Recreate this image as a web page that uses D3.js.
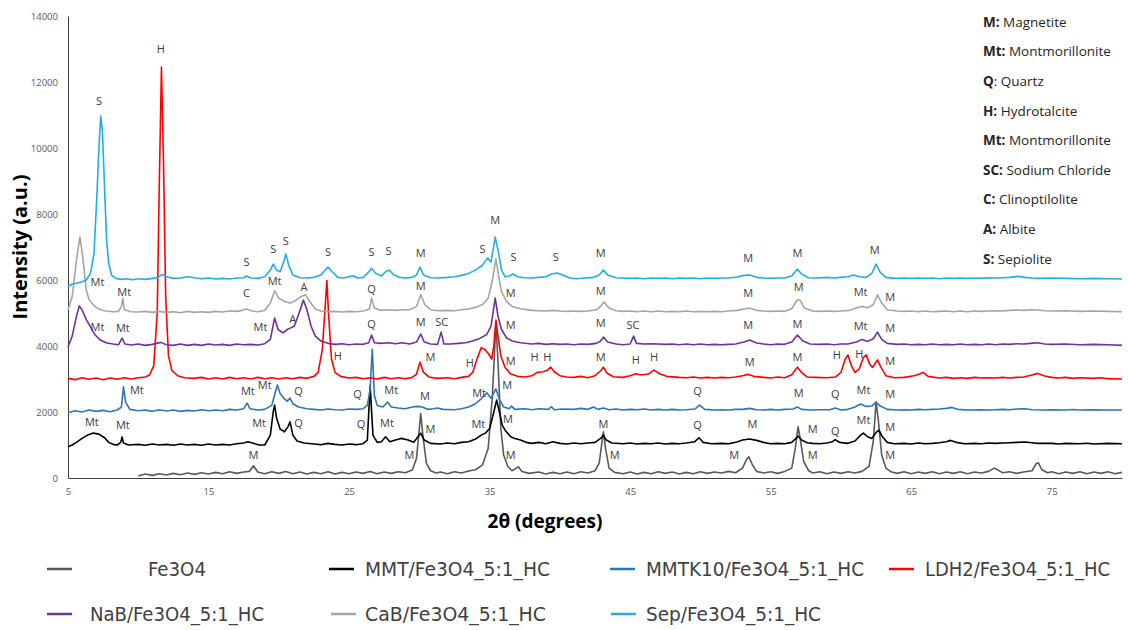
<!DOCTYPE html>
<html>
<head>
<meta charset="utf-8">
<script src="https://cdn.jsdelivr.net/npm/d3@7"></script>
<style>
  body { margin: 0; background: #fff; }
  .tick text { font-family: "Open Sans", sans-serif; fill: #595959; }
</style>
</head>
<body>
<div id="xrd"></div>
<script>
// XRD patterns of the Fe3O4 composites, each stacked with its own offset

// tick labels
var xTickValues = [5, 15, 25, 35, 45, 55, 65, 75];
var yTickValues = [0, 2000, 4000, 6000, 8000, 10000, 12000, 14000];

// series names + colours, drawn in this order
var seriesNames = ["Fe3O4", "MMT/Fe3O4_5:1_HC", "MMTK10/Fe3O4_5:1_HC", "LDH2/Fe3O4_5:1_HC",
                   "NaB/Fe3O4_5:1_HC", "CaB/Fe3O4_5:1_HC", "Sep/Fe3O4_5:1_HC"];
var seriesColors = ["#595959", "#000000", "#2E75B6", "#FF0000", "#7030A0", "#A5A5A5", "#1FAEE6"];

// [2theta, intensity]
var fe3o4 = [[10.0,60],[10.5,120],[11,80],[11.5,130],[12,90],[12.5,140],[13,100],[13.5,150],[14,110],[14.5,160],[15,120],[15.5,170],[16,130],[16.5,190],[17,140],[17.5,180],[17.9,200],[18.2,370],[18.5,180],[19,130],[19.5,190],[20,140],[20.5,200],[21,130],[21.5,180],[22,120],[22.5,170],[23,130],[23.5,190],[24,120],[24.5,170],[25,130],[25.5,180],[26,140],[26.5,200],[27,130],[27.5,180],[28,140],[28.5,190],[29,160],[29.5,240],[29.8,600],[30.0,1500],[30.1,1950],[30.25,1300],[30.5,450],[30.8,220],[31.2,150],[31.5,180],[32,130],[32.5,190],[33,150],[33.5,210],[34,250],[34.5,400],[34.9,900],[35.2,2500],[35.45,4700],[35.6,3500],[35.8,1500],[36.0,700],[36.3,350],[36.6,220],[36.9,300],[37.05,340],[37.3,200],[37.8,140],[38.5,180],[39,120],[39.5,170],[40,130],[40.5,180],[41,130],[41.5,190],[42,150],[42.5,220],[42.8,450],[43.0,1100],[43.1,1400],[43.25,900],[43.5,300],[43.9,170],[44.5,130],[45,180],[45.5,120],[46,170],[46.5,130],[47,190],[47.5,140],[48,180],[48.5,120],[49,170],[49.5,130],[50,190],[50.5,140],[51,180],[51.5,150],[52,200],[52.5,160],[53.0,300],[53.3,580],[53.45,640],[53.7,400],[54.0,200],[54.5,150],[55,190],[55.5,140],[56,200],[56.5,300],[56.75,900],[56.95,1550],[57.1,1200],[57.35,500],[57.7,220],[58,150],[58.5,190],[59,130],[59.5,180],[60,140],[60.5,190],[61,150],[61.5,200],[62.0,350],[62.3,1100],[62.5,2300],[62.65,1800],[62.9,700],[63.2,300],[63.6,180],[64,140],[64.5,190],[65,130],[65.5,180],[66,140],[66.5,190],[67,130],[67.5,180],[68,140],[68.5,190],[69,130],[69.5,180],[70,150],[70.5,200],[70.9,300],[71.1,260],[71.5,160],[72,190],[72.5,140],[73,180],[73.6,220],[73.9,440],[74.05,460],[74.3,250],[74.7,160],[75,190],[75.5,130],[76,180],[76.5,140],[77,190],[77.5,130],[78,180],[78.5,140],[79,190],[79.5,130],[80,170]];

var mmt = [[5,950],[5.3,1000],[5.6,1080],[6,1200],[6.4,1300],[6.8,1360],[7.2,1330],[7.6,1220],[7.9,1080],[8.2,1020],[8.5,1000],[8.75,1080],[8.85,1240],[8.95,1060],[9.3,1000],[10,1020],[10.5,990],[11,1030],[11.5,1000],[12,1020],[12.5,990],[13,1030],[13.5,1000],[14,1020],[14.5,990],[15,1030],[15.5,1000],[16,1020],[16.5,1000],[17,1040],[17.5,1060],[17.8,1100],[18.2,1050],[18.6,1000],[19.0,1000],[19.4,1300],[19.6,2000],[19.7,2210],[19.85,1800],[20.1,1480],[20.4,1400],[20.65,1550],[20.8,1700],[21.0,1300],[21.3,1120],[21.8,1060],[22.5,1030],[23,1010],[23.5,1050],[24,1020],[24.5,1000],[25,1030],[25.5,1010],[26,1040],[26.3,1150],[26.5,2800],[26.7,1300],[27,1080],[27.3,1100],[27.6,1250],[27.9,1100],[28.3,1150],[28.7,1200],[29.2,1150],[29.6,1080],[29.9,1250],[30.1,1360],[30.35,1150],[30.8,1050],[31.5,1030],[32,1060],[32.5,1040],[33,1080],[33.5,1100],[34,1180],[34.4,1300],[34.7,1360],[35.0,1500],[35.3,2000],[35.5,2360],[35.7,2000],[35.9,1600],[36.1,1450],[36.5,1250],[36.8,1200],[37.2,1150],[37.6,1080],[38,1050],[38.5,1080],[39,1040],[39.5,1100],[40,1050],[40.5,1030],[41,1060],[41.5,1040],[42,1060],[42.5,1080],[42.9,1200],[43.1,1300],[43.3,1150],[43.7,1060],[44.5,1040],[45,1060],[45.5,1030],[46,1050],[46.5,1040],[47,1060],[47.5,1030],[48,1050],[48.5,1040],[49,1060],[49.6,1100],[49.9,1220],[50.2,1080],[50.8,1040],[51.5,1050],[52,1040],[52.6,1090],[53.0,1150],[53.5,1180],[54.0,1140],[54.5,1080],[55,1040],[55.5,1050],[56,1040],[56.5,1080],[56.8,1200],[56.95,1270],[57.2,1150],[57.6,1070],[58,1050],[58.5,1040],[59,1060],[59.4,1100],[59.6,1160],[59.9,1080],[60.5,1050],[61.0,1120],[61.4,1300],[61.6,1360],[61.9,1250],[62.2,1200],[62.5,1380],[62.7,1450],[62.95,1250],[63.3,1080],[63.8,1040],[64.5,1050],[65,1030],[65.5,1060],[66,1040],[66.5,1050],[67,1070],[67.5,1100],[67.8,1140],[68.2,1080],[68.8,1040],[69.5,1050],[70,1040],[70.5,1060],[71,1050],[71.5,1060],[72,1070],[72.5,1080],[73.1,1090],[73.6,1070],[74,1050],[75,1050],[75.5,1030],[76,1050],[77,1040],[77.5,1055],[78,1030],[79,1050],[80,1040]];

var mmtk10 = [[5,1980],[5.5,2040],[6,2000],[6.5,2060],[7,2020],[7.5,2050],[8,2010],[8.5,2060],[8.8,2150],[8.95,2760],[9.1,2300],[9.4,2080],[10,2040],[10.5,2060],[11,2020],[11.5,2070],[12,2030],[12.5,2060],[13,2020],[13.5,2050],[14,2030],[14.5,2070],[15,2040],[15.5,2060],[16,2040],[16.5,2080],[17,2060],[17.5,2100],[17.75,2270],[17.95,2100],[18.5,2060],[19.0,2080],[19.5,2200],[19.75,2600],[19.9,2820],[20.1,2550],[20.4,2400],[20.6,2330],[20.8,2420],[21.0,2250],[21.4,2150],[22,2100],[22.5,2080],[23,2060],[23.5,2090],[24,2070],[24.5,2060],[25,2090],[25.5,2080],[26,2100],[26.3,2200],[26.5,2700],[26.65,3900],[26.8,2500],[27.0,2200],[27.4,2150],[27.75,2300],[28.0,2150],[28.5,2120],[29,2100],[29.5,2150],[29.9,2170],[30.2,2150],[30.6,2080],[31,2100],[31.3,2120],[31.7,2080],[32.5,2070],[33,2100],[33.5,2150],[34,2250],[34.4,2400],[34.8,2580],[35.1,2420],[35.45,2700],[35.7,2380],[36,2150],[36.4,2100],[36.55,2180],[36.8,2080],[37.5,2100],[38,2070],[38.5,2100],[39.2,2080],[39.4,2160],[39.6,2070],[40.2,2090],[41,2080],[41.5,2110],[42,2080],[42.4,2150],[42.7,2080],[43.1,2120],[43.5,2070],[44,2090],[44.5,2060],[45,2080],[45.5,2070],[46,2090],[46.5,2060],[47,2080],[47.5,2060],[48,2080],[48.5,2060],[49,2070],[49.6,2090],[49.95,2210],[50.3,2080],[51,2060],[51.5,2070],[52,2060],[52.5,2080],[53,2080],[53.5,2110],[54,2070],[54.5,2060],[55,2080],[55.5,2060],[56,2080],[56.6,2090],[56.9,2150],[57.2,2080],[57.8,2060],[58.5,2070],[59.2,2070],[59.6,2120],[60,2060],[60.5,2080],[61.0,2150],[61.4,2240],[61.8,2170],[62.2,2180],[62.5,2300],[62.8,2180],[63.3,2080],[64,2060],[64.5,2070],[65,2060],[65.5,2080],[66,2070],[66.5,2080],[67,2090],[67.5,2110],[67.9,2140],[68.3,2080],[69,2060],[70,2070],[70.5,2060],[71,2070],[71.5,2080],[72,2070],[72.5,2090],[73.1,2100],[73.6,2070],[74.5,2060],[75,2070],[76,2060],[76.5,2075],[77,2060],[78,2070],[79,2060],[80,2060]];

var ldh2 = [[5,3020],[5.5,2980],[6,3040],[6.5,2990],[7,3030],[7.5,2980],[8,3030],[8.5,2990],[9,3040],[9.5,3000],[10,3040],[10.5,3060],[10.8,3120],[11.1,3400],[11.35,5000],[11.5,9000],[11.65,12450],[11.8,9500],[11.95,5500],[12.15,3700],[12.4,3250],[12.8,3100],[13.3,3040],[14,3020],[14.5,3050],[15,3000],[15.5,3040],[16,3000],[16.5,3050],[17,3010],[17.5,3040],[18,3000],[18.5,3050],[19,3010],[19.5,3040],[20,3000],[20.5,3040],[21,3010],[21.5,3050],[22,3020],[22.5,3080],[22.8,3200],[23.1,3900],[23.3,5200],[23.42,5980],[23.55,4900],[23.75,3600],[24,3200],[24.4,3080],[25,3030],[25.5,3050],[26,3010],[26.5,3040],[27,3000],[27.5,3050],[28,3010],[28.5,3040],[29,3010],[29.5,3050],[29.8,3150],[30.05,3510],[30.3,3200],[30.7,3060],[31.2,3020],[32,3040],[32.5,3010],[33,3050],[33.5,3080],[33.8,3200],[34.1,3600],[34.4,3950],[34.65,3900],[34.95,3750],[35.15,3600],[35.3,4000],[35.45,4790],[35.6,4300],[35.8,3700],[36.1,3350],[36.5,3150],[37,3080],[37.5,3060],[38,3100],[38.4,3200],[38.8,3220],[39.1,3260],[39.35,3360],[39.6,3220],[40,3100],[40.5,3060],[41,3050],[41.5,3080],[42,3040],[42.5,3100],[42.9,3250],[43.1,3360],[43.35,3180],[43.8,3070],[44.5,3050],[45,3100],[45.4,3160],[45.8,3120],[46.3,3150],[46.7,3270],[47.1,3160],[47.6,3080],[48.5,3050],[49,3040],[49.5,3060],[50,3030],[50.5,3050],[51,3030],[51.5,3050],[52,3040],[52.5,3060],[53,3100],[53.4,3140],[53.8,3080],[54.5,3050],[55,3030],[55.5,3060],[56,3040],[56.5,3130],[56.9,3360],[57.2,3200],[57.6,3060],[58.2,3050],[59,3040],[59.6,3060],[60.0,3200],[60.3,3600],[60.5,3730],[60.75,3400],[61.0,3200],[61.3,3300],[61.6,3650],[61.8,3730],[62.05,3450],[62.25,3350],[62.6,3580],[62.85,3350],[63.2,3100],[63.8,3040],[64.5,3050],[65.2,3100],[65.6,3150],[65.85,3200],[66.2,3080],[67,3030],[67.5,3050],[68,3020],[68.5,3040],[69,3020],[69.5,3050],[70,3030],[70.5,3040],[71,3030],[71.5,3050],[72,3030],[72.5,3050],[73,3060],[73.6,3120],[74.0,3170],[74.5,3090],[75,3050],[75.5,3030],[76,3050],[76.5,3020],[77,3040],[78,3020],[78.5,3040],[79,3010],[80,3000]];

var nab = [[5,3970],[5.3,4300],[5.6,4900],[5.8,5210],[6.0,5100],[6.3,4800],[6.6,4580],[6.9,4350],[7.3,4180],[7.7,4100],[8.2,4060],[8.6,4040],[8.85,4240],[9.05,4060],[9.5,4030],[10,4060],[10.5,4020],[11,4050],[11.6,4110],[12,4040],[12.5,4020],[13,4060],[13.5,4020],[14,4050],[14.5,4020],[15,4060],[15.5,4030],[16,4050],[16.5,4020],[17,4060],[17.5,4040],[18,4050],[18.5,4030],[19,4070],[19.4,4200],[19.7,4850],[19.95,4500],[20.3,4400],[20.6,4500],[20.85,4550],[21.1,4600],[21.4,4950],[21.75,5390],[22.0,5100],[22.3,4600],[22.6,4300],[23.0,4150],[23.5,4080],[24,4050],[24.5,4070],[25,4040],[25.5,4060],[26,4050],[26.4,4100],[26.6,4330],[26.8,4100],[27.3,4080],[27.8,4100],[28.3,4070],[28.8,4100],[29.3,4060],[29.8,4120],[30.1,4360],[30.35,4120],[30.8,4060],[31.3,4050],[31.55,4420],[31.75,4060],[32.2,4060],[32.8,4080],[33.3,4100],[33.8,4150],[34.3,4230],[34.8,4350],[35.1,4600],[35.4,5450],[35.6,4900],[35.85,4500],[36.2,4250],[36.6,4150],[37.2,4100],[38,4060],[38.5,4080],[39,4050],[39.5,4070],[40,4050],[40.5,4060],[41,4040],[41.5,4060],[42,4050],[42.6,4080],[42.9,4150],[43.1,4270],[43.4,4120],[44,4060],[44.5,4040],[45.0,4060],[45.25,4300],[45.45,4080],[46,4060],[46.5,4070],[47,4060],[47.5,4050],[48,4060],[48.5,4040],[49,4060],[49.5,4040],[50,4060],[50.5,4040],[51,4050],[51.5,4040],[52,4050],[52.5,4060],[53.1,4120],[53.5,4180],[54,4090],[54.5,4060],[55,4040],[55.5,4060],[56,4050],[56.5,4120],[56.9,4330],[57.3,4150],[57.8,4060],[58.5,4050],[59,4060],[59.5,4040],[60,4060],[60.5,4060],[61.1,4120],[61.5,4200],[61.9,4140],[62.3,4220],[62.6,4420],[62.9,4200],[63.3,4080],[64,4050],[64.5,4060],[65,4040],[65.5,4050],[66,4040],[66.5,4060],[67,4040],[67.5,4050],[68,4040],[68.5,4060],[69,4040],[69.5,4050],[70,4040],[70.5,4060],[71,4040],[71.5,4060],[72,4050],[72.5,4070],[73,4060],[73.5,4080],[74,4100],[74.5,4060],[75,4050],[76,4060],[77,4040],[78,4050],[79,4040],[80,4020]];

var cab = [[5,5090],[5.3,5500],[5.6,6600],[5.85,7300],[6.05,6700],[6.3,5700],[6.5,5400],[6.9,5200],[7.3,5100],[7.7,5060],[8.2,5040],[8.6,5050],[8.8,5200],[8.9,5450],[9.0,5100],[9.5,5040],[10,5030],[10.5,5050],[11,5020],[11.5,5050],[12,5020],[12.5,5040],[13,5010],[13.5,5050],[14,5020],[14.5,5040],[15,5020],[15.5,5050],[16,5030],[16.5,5060],[17,5050],[17.4,5080],[17.7,5120],[18.1,5060],[18.5,5040],[19.0,5080],[19.4,5300],[19.7,5670],[20.0,5450],[20.4,5350],[20.8,5300],[21.2,5380],[21.6,5500],[21.9,5550],[22.2,5350],[22.6,5120],[23,5060],[23.5,5040],[24,5050],[24.5,5030],[25,5050],[25.5,5040],[26,5060],[26.45,5120],[26.6,5450],[26.8,5150],[27.2,5080],[27.8,5100],[28.3,5080],[28.8,5100],[29.3,5100],[29.8,5200],[30.1,5550],[30.4,5250],[30.8,5100],[31.3,5070],[32,5080],[32.5,5070],[33,5100],[33.5,5120],[34,5170],[34.5,5260],[34.9,5450],[35.2,6000],[35.45,6650],[35.65,6100],[35.85,5650],[36.2,5350],[36.6,5200],[37.2,5130],[38,5080],[38.5,5070],[39,5060],[39.5,5080],[40,5060],[40.5,5050],[41,5060],[41.5,5050],[42,5060],[42.6,5100],[42.9,5200],[43.15,5330],[43.5,5150],[44,5070],[44.5,5050],[45,5060],[45.5,5040],[46,5060],[46.5,5040],[47,5060],[47.5,5040],[48,5050],[48.5,5040],[49,5060],[49.5,5040],[50,5050],[50.5,5040],[51,5050],[51.5,5040],[52,5060],[52.6,5080],[53.1,5120],[53.5,5150],[54,5080],[54.5,5060],[55,5050],[55.5,5060],[56,5050],[56.5,5130],[56.9,5400],[57.1,5380],[57.4,5150],[58,5060],[58.5,5050],[59,5060],[59.5,5050],[60,5060],[60.6,5080],[61.1,5150],[61.5,5200],[61.9,5160],[62.3,5250],[62.6,5550],[62.9,5300],[63.3,5100],[64,5060],[64.5,5050],[65,5060],[65.5,5040],[66,5060],[66.5,5040],[67,5050],[67.5,5060],[68,5040],[68.5,5060],[69,5040],[69.5,5060],[70,5050],[70.5,5060],[71,5070],[71.5,5060],[72,5080],[72.5,5090],[73,5080],[73.6,5100],[74,5090],[74.5,5070],[75,5060],[76,5070],[77,5050],[78,5060],[79,5050],[80,5040]];

var sep = [[5,5800],[5.3,5880],[5.6,5900],[6.0,5950],[6.3,6000],[6.6,6200],[6.85,6800],[7.05,8500],[7.2,10000],[7.33,10970],[7.45,10500],[7.6,8800],[7.75,7200],[7.9,6500],[8.1,6150],[8.4,6050],[8.8,6020],[9.2,6040],[9.6,6010],[10,6040],[10.5,6020],[11,6050],[11.4,6080],[11.7,6170],[12.0,6100],[12.5,6050],[13,6060],[13.5,6100],[14,6070],[14.5,6040],[15,6060],[15.5,6030],[16,6050],[16.5,6030],[17,6060],[17.5,6070],[17.7,6120],[18,6060],[18.5,6050],[19,6100],[19.4,6300],[19.6,6480],[19.85,6300],[20.1,6250],[20.35,6550],[20.5,6790],[20.7,6450],[21.0,6150],[21.5,6070],[22,6060],[22.5,6080],[23,6150],[23.3,6300],[23.5,6390],[23.8,6250],[24.2,6080],[24.6,6060],[25.0,6100],[25.3,6130],[25.6,6060],[26,6080],[26.3,6200],[26.6,6350],[26.9,6200],[27.3,6120],[27.6,6250],[27.85,6300],[28.2,6150],[28.6,6080],[29,6060],[29.5,6080],[29.8,6150],[30.05,6390],[30.3,6150],[30.8,6070],[31.3,6060],[32,6080],[32.5,6100],[33,6140],[33.5,6200],[34,6300],[34.5,6450],[34.85,6670],[35.1,6550],[35.4,7300],[35.6,6900],[35.85,6300],[36.1,6100],[36.4,6120],[36.65,6180],[37,6100],[37.5,6070],[38,6060],[38.5,6080],[39,6100],[39.4,6180],[39.8,6210],[40.2,6150],[40.7,6060],[41.2,6040],[41.8,6060],[42.4,6080],[42.8,6150],[43.1,6300],[43.4,6150],[44,6070],[44.5,6060],[45,6050],[45.5,6060],[46,6040],[46.5,6060],[47,6050],[47.5,6060],[48,6040],[48.5,6060],[49,6050],[49.5,6060],[50,6040],[50.5,6060],[51,6050],[51.5,6060],[52,6060],[52.6,6090],[53.1,6140],[53.5,6150],[54,6080],[54.5,6060],[55,6050],[55.5,6060],[56,6060],[56.5,6120],[56.9,6330],[57.2,6180],[57.7,6070],[58.3,6060],[59,6080],[59.5,6060],[60,6080],[60.5,6100],[60.9,6150],[61.3,6100],[61.8,6080],[62.2,6200],[62.5,6480],[62.8,6230],[63.2,6080],[63.8,6050],[64.5,6060],[65,6050],[65.5,6060],[66,6050],[66.5,6060],[67,6040],[67.5,6060],[68,6050],[68.5,6060],[69,6050],[69.5,6060],[70,6050],[70.5,6070],[71,6060],[71.5,6070],[72,6080],[72.6,6110],[73.1,6080],[73.6,6060],[74,6050],[75,6060],[76,6050],[77,6040],[78,6050],[79,6040],[80,6030]];

// peak labels: [text, 2theta, intensity]
var sepLabels = [["S",7.2,11430],["Mt",7.1,5940],["S",17.7,6540],["S",19.6,6940],["S",20.5,7180],["S",23.5,6850],["S",26.6,6850],["S",27.8,6880],["M",30.1,6820],["S",34.5,6950],["M",35.4,7820],["S",36.7,6700],["S",39.7,6700],["M",42.9,6820],["M",53.4,6670],["M",56.9,6820],["M",62.4,6910]];
var cabLabels = [["Mt",9.0,5640],["C",17.7,5610],["Mt",19.7,5970],["A",21.8,5790],["Q",26.6,5730],["M",30.1,5820],["M",36.5,5610],["M",42.9,5670],["M",53.4,5610],["M",57.0,5790],["Mt",61.4,5640],["M",63.5,5480]];
var nabLabels = [["Mt",7.1,4575],["Mt",8.9,4545],["Mt",18.7,4575],["A",21.0,4820],["Q",26.6,4670],["M",30.1,4730],["SC",31.6,4730],["M",36.5,4640],["M",42.9,4700],["SC",45.2,4640],["M",53.4,4640],["M",56.9,4670],["Mt",61.4,4610],["M",63.5,4545]];
var ldhLabels = [["H",11.6,13000],["H",24.2,3700],["M",30.8,3670],["H",33.6,3485],["M",36.5,3545],["H",38.2,3670],["H",39.1,3670],["M",42.9,3670],["H",45.4,3575],["H",46.7,3670],["M",53.5,3515],["M",56.9,3670],["H",59.7,3730],["H",61.3,3760],["M",63.5,3545]];
var mmtk10Labels = [["Mt",9.9,2665],["Mt",17.8,2635],["Mt",19.0,2820],["Q",21.4,2635],["Q",25.6,2545],["Mt",28.0,2665],["M",30.4,2485],["Mt",34.25,2575],["M",36.25,2820],["Q",49.8,2635],["M",57.0,2575],["Q",59.6,2545],["Mt",61.6,2665],["M",63.5,2545]];
var mmtLabels = [["Mt",6.7,1700],["Mt",8.9,1605],["Mt",18.6,1665],["Q",21.4,1665],["Q",25.85,1635],["Mt",27.7,1665],["M",30.8,1485],["Mt",34.2,1635],["M",36.3,1790],["M",43.1,1635],["Q",49.8,1605],["M",53.7,1635],["M",58.0,1485],["Q",59.6,1425],["Mt",61.6,1760],["M",63.5,1545]];
var fe3o4Labels = [["M",18.2,700],["M",29.3,700],["M",36.5,700],["M",43.9,700],["M",52.4,700],["M",58.0,700],["M",63.5,700]];

// phase key, top right
var phaseKey = [["M:", " Magnetite"], ["Mt:", " Montmorillonite"], ["Q", ": Quartz"], ["H:", " Hydrotalcite"],
                ["Mt:", " Montmorillonite"], ["SC:", " Sodium Chloride"], ["C:", " Clinoptilolite"],
                ["A:", " Albite"], ["S:", " Sepiolite"]];

var allSeries = [fe3o4, mmt, mmtk10, ldh2, nab, cab, sep];
var allLabels = [].concat(sepLabels, cabLabels, nabLabels, ldhLabels, mmtk10Labels, mmtLabels, fe3o4Labels);

// ---- layout ----
var margin = { top: 16, right: 6, bottom: 152, left: 68 },
    W = 1128, H = 630,
    width = W - margin.left - margin.right,
    height = H - margin.top - margin.bottom;

var root = d3.select("#xrd").append("svg")
    .attr("width", W).attr("height", H)
    .style("background", "#fff");

var svg = root.append("g").attr("transform", `translate(${margin.left}, ${margin.top})`);

var x = d3.scaleLinear().domain([5, 80]).range([0, width]);
var y = d3.scaleLinear().domain([0, 14000]).range([height, 0]);

// axes (plain numbers, no thousands separator)
var yAxis = svg.append("g")
    .call(d3.axisLeft(y).tickValues(yTickValues).tickFormat(d3.format("d")).tickSize(0).tickPadding(10));
var xAxis = svg.append("g")
    .attr("transform", `translate(0, ${height})`)
    .call(d3.axisBottom(x).tickValues(xTickValues).tickFormat(d3.format("d")).tickSize(0).tickPadding(10));
[xAxis, yAxis].forEach(function(a) {
  a.select(".domain").attr("stroke", "#404040").attr("stroke-width", 1);
  a.selectAll("text").style("font-size", "9.5px");
});

// patterns
var line = d3.line().x(d => x(d[0])).y(d => y(d[1]));
svg.append("g").selectAll("path")
  .data(allSeries)
  .join("path")
    .attr("d", line)
    .attr("fill", "none")
    .attr("stroke", (d, i) => seriesColors[i])
    .attr("stroke-width", 1.6)
    .attr("stroke-linejoin", "round");

// peak labels
svg.append("g").selectAll("text")
  .data(allLabels)
  .join("text")
    .attr("x", d => x(d[1]))
    .attr("y", d => y(d[2]))
    .attr("dy", "0.35em")
    .attr("text-anchor", "middle")
    .style("font-family", "'Open Sans', sans-serif")
    .style("font-size", "11px")
    .style("fill", "#404040")
    .text(d => d[0]);

// axis titles
root.append("text")
  .attr("transform", "translate(27, 247) rotate(-90)")
  .attr("text-anchor", "middle")
  .style("font-family", "'Open Sans', sans-serif")
  .style("font-weight", "bold")
  .style("font-size", "20px")
  .text("Intensity (a.u.)");

root.append("text")
  .attr("x", 545).attr("y", 528)
  .attr("text-anchor", "middle")
  .style("font-family", "'Open Sans', sans-serif")
  .style("font-weight", "bold")
  .style("font-size", "19px")
  .text("2θ (degrees)");

// phase key
var key = root.append("g").selectAll("text")
  .data(phaseKey)
  .join("text")
    .attr("x", 983)
    .attr("y", (d, i) => 22 + i * 29.6)
    .attr("dy", "0.35em")
    .style("font-family", "'Open Sans', sans-serif")
    .style("font-size", "13.5px")
    .style("fill", "#262626");
key.append("tspan").style("font-weight", "bold").text(d => d[0]);
key.append("tspan").text(d => d[1]);

// legend (two rows under the plot)
var legendPos = [
  { lx: 47,  tx: 177, anchor: "middle", y: 569, w: 58 },
  { lx: 329, tx: 365, anchor: "start",  y: 569, w: 185 },
  { lx: 610, tx: 646, anchor: "start",  y: 569, w: 218 },
  { lx: 889, tx: 925, anchor: "start",  y: 569, w: 185 },
  { lx: 47,  tx: 90,  anchor: "start",  y: 614, w: 174 },
  { lx: 331, tx: 365, anchor: "start",  y: 614, w: 181 },
  { lx: 611, tx: 646, anchor: "start",  y: 614, w: 175 }
];
var leg = root.append("g").selectAll("g")
  .data(seriesNames)
  .join("g");
leg.append("line")
  .attr("x1", (d, i) => legendPos[i].lx)
  .attr("x2", (d, i) => legendPos[i].lx + 25)
  .attr("y1", (d, i) => legendPos[i].y)
  .attr("y2", (d, i) => legendPos[i].y)
  .attr("stroke", (d, i) => seriesColors[i])
  .attr("stroke-width", 2.5);
leg.append("text")
  .attr("x", (d, i) => legendPos[i].tx)
  .attr("y", (d, i) => legendPos[i].y)
  .attr("dy", "0.35em")
  .attr("text-anchor", (d, i) => legendPos[i].anchor)
  .attr("textLength", (d, i) => legendPos[i].w)
  .attr("lengthAdjust", "spacingAndGlyphs")
  .style("font-family", "'Liberation Sans Narrow', 'DejaVu Sans Condensed', 'Liberation Sans', sans-serif")
  .style("font-size", "20px")
  .style("fill", "#404040")
  .text(d => d);
</script>
</body>
</html>
